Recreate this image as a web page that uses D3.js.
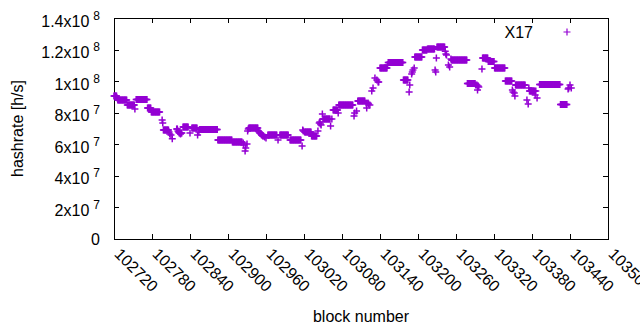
<!DOCTYPE html>
<html>
<head>
<meta charset="utf-8">
<script src="https://cdn.jsdelivr.net/npm/d3@7.9.0/dist/d3.min.js"></script>
<style>
  body { margin: 0; background: #fff; }
  svg { display: block; font-family: 'Liberation Sans', Arial, sans-serif; }
</style>
</head>
<body>
<svg id="chart"></svg>
<script>
// hashrate per block, in units of 1e6 h/s, starting at firstBlock (null = no point)
const firstBlock = 102720;
const hashrateMh = [
  90.6, 90.6, 90.6, 90.6, 90.6, 89.3,
  88.1, 88.1, 88.1, 88.1, 88.1, 88.1, 88.1, 88.1, 88.1, 88.1, 88.1, 88.1, 88.1, 88.1, 88.1,
  84.9, 84.9, 84.9, 84.9, 84.9, 84.9, 84.9, 84.9, 84.9, 84.9, 84.9, 84.9,
  82.4, null,
  88.4, 88.4, 88.4, 88.4, 88.4, 88.4, 88.4, 88.4, 88.4, 88.4, 88.4, 88.4, 88.4, 88.4, 88.4, 88.4, 88.4, 88.4,
  83.0, 83.0, 83.0, 83.0, 83.0, 83.0,
  80.5, 80.5, 80.5, 80.5, 80.5, 80.5, 80.5, 80.5, 80.5, 80.5, 80.5, 80.5, 80.5, 80.5,
  null, null, null, 75.4, 73.5,
  69.1, 69.1, 69.1, 69.1, 69.1, 69.1, 69.1, 69.1, 69.1,
  67.8, 66.5, null, 65.9, null, 63.5,
  null, null, null, null, null, null,
  69.7, 69.7, 68.4, 67.8, 67.2, 67.2, 66.5, 67.2, 67.2,
  null,
  71.0, 71.0, 71.0, 71.0, 71.0, 71.0, 71.0, 71.0, 71.0,
  null, null, 67.2, null, null,
  70.3, 70.3, 70.3, 70.3, 70.3, 70.3, 70.3, 70.3, 70.3,
  65.9, null, 67.8,
  69.4, 69.4, 69.4, 69.4, 69.4, 69.4, 69.4, 69.4, 69.4, 69.4, 69.4, 69.4, 69.4, 69.4, 69.4,
  69.4, 69.4, 69.4, 69.4, 69.4, 69.4, 69.4, 69.4, 69.4, 69.4, 69.4, 69.4, 69.4, 69.4,
  62.7, 62.7, 62.7, 62.7, 62.7, 62.7, 62.7, 62.7, 62.7, 62.7, 62.7, 62.7,
  62.7, 62.7, 62.7, 62.7, 62.7, 62.7, 62.7, 62.7, 62.7, 62.7, 62.7,
  61.4, 61.4, 61.4, 61.4, 61.4, 61.4, 61.4, 61.4, 61.4, 61.4, 61.4, 61.4, 61.4, 61.4, 61.4, 61.4,
  null, 60.8, 59.5, null, 55.8, 57.6, null, 60.2, 68.4, 69.7,
  70.3, 70.3, 70.3, 70.3, 70.3, 70.3, 70.3, 70.3, 70.3, 70.3, 70.3, 70.3, 70.3, 70.3, 70.3,
  68.4, 67.8, 67.2, 67.2, 66.5, 65.9, 65.9, 65.3, 65.3, null, 64.6, null, 64.0, null, null,
  65.9, 65.9, 65.9, 65.9, 65.9, 65.9, 65.9, 65.9, 65.9, 65.9, 65.9, 65.9, 65.9, 65.9, 65.9,
  null, 62.7, null, null,
  65.9, 65.9, 65.9, 65.9, 65.9, 65.9, 65.9, 65.9, 65.9, 65.9, 65.9, 65.9, 65.9, 65.9,
  null, null,
  62.7, 62.7, 62.7, 62.7, 62.7, 62.7, 62.7, 62.7, 62.7, 62.7, 62.7, 62.7, 62.7, 62.7, 62.7, 62.7, 62.7, 62.7,
  null, 58.9, 69.1, 68.4, null,
  67.8, 67.8, 67.8, 67.8, 67.8, 67.8, 67.8, 67.8, 67.8, 67.8, 67.8,
  65.3, 65.3, 65.3, 65.3, 65.3, 65.3, 65.3, 65.3, 65.3,
  null, 68.4, null, 73.5, 74.1, 72.8, 72.2, null, 79.2,
  76.0, 76.0, 76.0, 76.0, 76.0, 76.0, 76.0, 76.0, 76.0, 76.0, 76.0, 76.0,
  71.6, null, 76.0, null,
  81.7, 81.7, 81.7, 81.7, 81.7, 81.7, 81.7, 81.7,
  79.8,
  84.9, 84.9, 84.9, 84.9, 84.9, 84.9, 84.9, 84.9, 84.9, 84.9, 84.9, 84.9,
  84.9, 84.9, 84.9, 84.9, 84.9, 84.9, 84.9, 84.9, 84.9, 84.9, 84.9,
  null, 77.9, 79.8, null, null, 81.1, null,
  87.4, 87.4, 87.4, 87.4, 87.4, 87.4, 87.4, 87.4, 87.4, 87.4, 87.4, 87.4,
  null, 86.2, 83.0, null, 86.2, 85.5, null, 84.9, null, null, 93.8, null,
  95.7, null, null, 102.0, null, null, 100.7, null, 99.5, 99.5, null,
  108.3, 108.3, 108.3, 108.3, 108.3, 108.3, 108.3, 108.3, 108.3, 108.3, 108.3, 108.3,
  110.2,
  111.8, 111.8, 111.8, 111.8, 111.8, 111.8, 111.8, 111.8, 111.8, 111.8, 111.8, 111.8,
  111.8, 111.8, 111.8, 111.8, 111.8, 111.8, 111.8, 111.8, 111.8, 111.8, 111.8, 111.8,
  100.7, 100.7, 100.7, 100.7, 100.7, 100.7, 100.7, 100.7,
  null, 93.1, 97.6, null, null, 104.5, 105.8, 107.1, null, 108.3,
  115.3, 115.3, 115.3, 115.3, 115.3, 115.3, 115.3, 115.3, 115.3, 115.3, 115.3, 115.3,
  119.7, 119.7, 119.7, 119.7, 119.7, 119.7, 119.7, 119.7,
  120.4, 120.4, 120.4, 120.4, 120.4, 120.4, 120.4, 120.4, 120.4, 120.4, 120.4, 120.4,
  107.1, 105.8, 114.7,
  121.6, 121.6, 121.6, 121.6, 121.6, 121.6, 121.6, 121.6, 121.6, 121.6, 121.6, 121.6, 121.6,
  119.0, 117.2, 116.6, null, null, 110.2, null, 109.0, null, 114.0,
  113.4, 113.4, 113.4, 113.4, 113.4, 113.4, 113.4, 113.4, 113.4, 113.4, 113.4, 113.4, 113.4,
  113.4, 113.4, 113.4, 113.4, 113.4, 113.4, 113.4, 113.4, 113.4, 113.4, 113.4, 113.4,
  98.5, 98.5, 98.5, 98.5, 98.5, 98.5, 98.5, 98.5, 98.5, 98.5, 98.5, 98.5, 98.5,
  97.6, null, 97.6, 94.4, 96.9, 96.3, null, null, null, null, 107.7,
  114.7, 114.7, 114.7, 114.7, 114.7, 114.7, 114.7, 114.7, 114.7,
  112.4, 112.4, 112.4, 112.4, 112.4, 112.4, 112.4, 112.4, 112.4, 112.4,
  108.3, 108.3, 108.3, 108.3, 108.3, 108.3, 108.3, 108.3, 108.3, 108.3, 108.3, 108.3,
  108.3, 108.3, 108.3, 108.3, 108.3,
  100.1, 100.1, 100.1, 100.1, 100.1, 100.1, 100.1, 100.1, 100.1, 100.1, 100.1,
  94.4, 93.1, null, 92.5, 90.6,
  97.6, 97.6, 97.6, 97.6, 97.6, 97.6, 97.6, 97.6, 97.6, 97.6, 97.6, 97.6, 97.6, 97.6, 97.6, 97.6,
  null, null, 88.1, null, 85.5, 95.7,
  93.8, 93.8, 93.8, 93.8, 93.8, 93.8, 93.8, 93.8, 93.8,
  91.2, 93.8, null, 89.3, null, null, null,
  97.9, 97.9, 97.9, 97.9, 97.9, 97.9, 97.9, 97.9, 97.9, 97.9, 97.9, 97.9, 97.9, 97.9, 97.9, 97.9, 97.9,
  97.9, 97.9, 97.9, 97.9, 97.9, 97.9, 97.9, 97.9, 97.9, 97.9, 97.9, 97.9, 97.9, 97.9, 97.9, 97.9,
  85.2, 85.2, 85.2, 85.2, 85.2, 85.2, 85.2, 85.2, 85.2, 85.2, 85.2,
  null, 95.0, 95.7, null, 97.6, null, 95.7,
];

const xTicks = [102720, 102780, 102840, 102900, 102960, 103020, 103080,
  103140, 103200, 103260, 103320, 103380, 103440, 103500];
const yTicks = [0, 2e7, 4e7, 6e7, 8e7, 1e8, 1.2e8, 1.4e8];
const yTickBase = ['0', '2x10', '4x10', '6x10', '8x10', '1x10', '1.2x10', '1.4x10'];
const yTickExp = ['', '7', '7', '7', '7', '8', '8', '8'];
const seriesName = 'X17';
const xTitle = 'block number';
const yTitle = 'hashrate [h/s]';

const points = hashrateMh
  .map((v, i) => ({ block: firstBlock + i, value: v }))
  .filter((d) => d.value !== null)
  .map((d) => ({ block: d.block, value: d.value * 1e6 }));

const width = 640;
const height = 330;
const margin = { top: 18, right: 32, bottom: 91, left: 114 };
const color = '#9400d3';

const svg = d3.select('#chart').attr('width', width).attr('height', height);

const xScale = d3
  .scaleLinear()
  .domain([102720, 103500])
  .range([margin.left, width - margin.right]);

const yScale = d3
  .scaleLinear()
  .domain([0, 1.4e8])
  .range([height - margin.bottom, margin.top]);

const plotBottom = height - margin.bottom;
const plotRight = width - margin.right;

// axes with inward ticks, mirrored on top/right like gnuplot
const xAxis = svg
  .append('g')
  .attr('transform', `translate(0, ${plotBottom})`)
  .call(
    d3.axisBottom(xScale)
      .tickValues(xTicks)
      .tickFormat(d3.format('d'))
      .tickSizeInner(-5)
      .tickSizeOuter(0)
      .tickPadding(0)
  );

xAxis
  .selectAll('text')
  .attr('y', 0)
  .attr('dy', 0)
  .attr('text-anchor', 'start')
  .attr('transform', 'translate(-1, 16) rotate(45)');

const yAxis = svg
  .append('g')
  .attr('transform', `translate(${margin.left}, 0)`)
  .call(
    d3.axisLeft(yScale)
      .tickValues(yTicks)
      .tickSizeInner(-5)
      .tickSizeOuter(0)
      .tickPadding(14)
      .tickFormat('')
  );

yAxis.selectAll('.tick text').each(function (d, i) {
  const t = d3.select(this).attr('dy', yTickExp[i] ? '0.5em' : '0.32em');
  t.append('tspan').text(yTickBase[i]);
  if (yTickExp[i]) {
    t.append('tspan')
      .attr('dx', 4)
      .attr('dy', -7)
      .attr('font-size', 12)
      .text(yTickExp[i]);
  }
});

svg
  .append('g')
  .attr('transform', `translate(0, ${margin.top})`)
  .call(d3.axisTop(xScale).tickValues(xTicks).tickSizeInner(-5).tickSizeOuter(0).tickFormat(''));

svg
  .append('g')
  .attr('transform', `translate(${plotRight}, 0)`)
  .call(d3.axisRight(yScale).tickValues(yTicks).tickSizeInner(-5).tickSizeOuter(0).tickFormat(''));

svg.selectAll('.domain').remove();
svg
  .selectAll('.tick line')
  .attr('stroke', '#000')
  .attr('shape-rendering', 'crispEdges');
svg
  .selectAll('.tick text')
  .attr('font-size', 16)
  .attr('font-family', "'Liberation Sans', Arial, sans-serif")
  .attr('fill', '#000');

// plot border
svg
  .append('rect')
  .attr('x', margin.left)
  .attr('y', margin.top)
  .attr('width', plotRight - margin.left)
  .attr('height', plotBottom - margin.top)
  .attr('fill', 'none')
  .attr('stroke', '#000')
  .attr('shape-rendering', 'crispEdges');

// axis titles
svg
  .append('text')
  .attr('transform', `translate(23, ${(margin.top + plotBottom) / 2}) rotate(-90)`)
  .attr('text-anchor', 'middle')
  .attr('font-size', 16)
  .text(yTitle);

svg
  .append('text')
  .attr('x', (margin.left + plotRight) / 2)
  .attr('y', 322)
  .attr('text-anchor', 'middle')
  .attr('font-size', 16)
  .text(xTitle);

// data points as '+' markers
const plus = 'M-3.5,0H3.5M0,-3.5V3.5';

svg
  .append('g')
  .selectAll('path')
  .data(points)
  .join('path')
  .attr('d', plus)
  .attr('transform', (d) => `translate(${xScale(d.block)}, ${yScale(d.value)})`)
  .attr('fill', 'none')
  .attr('stroke', color)
  .attr('stroke-width', 1.5);

// legend
svg
  .append('text')
  .attr('x', 533)
  .attr('y', 38)
  .attr('text-anchor', 'end')
  .attr('font-size', 16)
  .text(seriesName);

svg
  .append('path')
  .attr('d', plus)
  .attr('transform', 'translate(567, 32)')
  .attr('fill', 'none')
  .attr('stroke', color)
  .attr('stroke-width', 1.2);
</script>
</body>
</html>
